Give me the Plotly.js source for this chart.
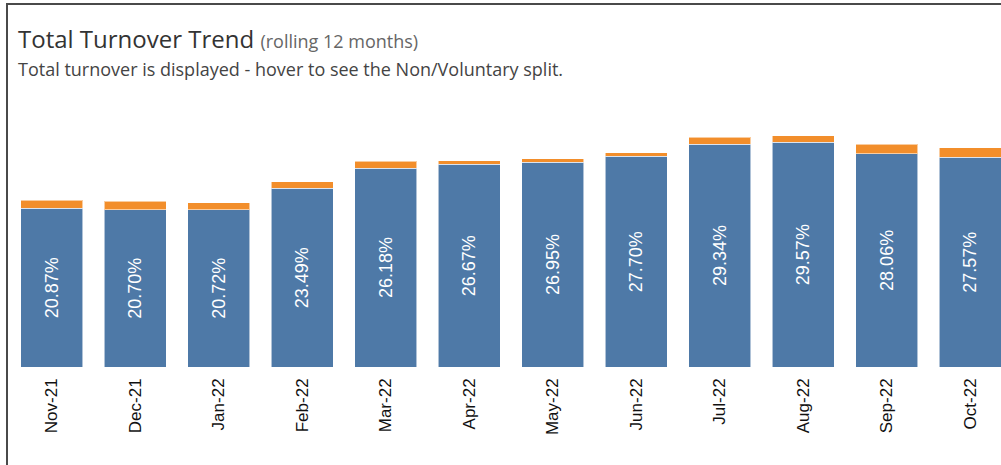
<!DOCTYPE html>
<html>
<head>
<meta charset="utf-8">
<script src="https://cdn.plot.ly/plotly-3.0.1.min.js"></script>
<style>
  html, body { margin: 0; padding: 0; background: #fff; overflow: hidden; }
  #wrap { position: relative; width: 1001px; height: 465px; }
  #chart { width: 1001px; height: 465px; }
  #frame { position: absolute; left: 6px; top: 3px; width: 1010px; height: 480px;
           border-left: 2px solid #4a4a4a; border-top: 2px solid #4a4a4a; pointer-events: none; }
</style>
</head>
<body>
<div id="wrap">
  <div id="chart"></div>
  <div id="frame"></div>
</div>
<script>
// Data
var months = ["Nov-21","Dec-21","Jan-22","Feb-22","Mar-22","Apr-22","May-22","Jun-22","Jul-22","Aug-22","Sep-22","Oct-22"];
var mainValues = [20.87, 20.70, 20.72, 23.49, 26.18, 26.67, 26.95, 27.70, 29.34, 29.57, 28.06, 27.57];
var topValues  = [1.05, 1.10, 0.87, 0.87, 0.92, 0.48, 0.48, 0.48, 0.88, 0.87, 1.27, 1.27];
var mainLabels = mainValues.map(function(v){ return v.toFixed(2) + "%"; });

var blue = "#4e79a7", orange = "#f28e2b";

var traces = [
  {
    type: "bar", x: months, y: mainValues, name: "Voluntary",
    marker: { color: blue, line: { color: "rgba(255,255,255,0.55)", width: 1 } },
    text: mainLabels, textposition: "inside", insidetextanchor: "middle",
    textangle: -90, constraintext: "none",
    textfont: { family: "Liberation Sans, Arial, sans-serif", size: 18, color: "#ffffff" },
    hovertemplate: "%{x}<br>Voluntary: %{y:.2f}%<extra></extra>"
  },
  {
    type: "bar", x: months, y: topValues, name: "Non-Voluntary",
    marker: { color: orange, line: { color: "rgba(255,255,255,0.55)", width: 1 } },
    hovertemplate: "%{x}<br>Non-Voluntary: %{y:.2f}%<extra></extra>"
  }
];

var L = 10, B = 98, T = 90, R = 0;
var W = 1001 - L - R, H = 465 - T - B;
var spacing = 83.5, pxPerUnit = 7.6;
function px(xp){ return (xp - L) / W; }
function py(yp){ return (465 - B - yp) / H; }

var layout = {
  width: 1001, height: 465,
  margin: { l: L, r: R, t: T, b: B, pad: 0 },
  paper_bgcolor: "#ffffff", plot_bgcolor: "#ffffff",
  barmode: "stack", bargap: 1 - 62 / spacing,
  showlegend: false,
  xaxis: {
    type: "category", range: [-0.5, -0.5 + W / spacing],
    tickangle: -90, ticks: "", showline: false, showgrid: false, zeroline: false,
    tickfont: { family: "Liberation Sans, Arial, sans-serif", size: 17, color: "#111111" },
    ticklabelstandoff: 7
  },
  yaxis: {
    range: [0, H / pxPerUnit], visible: false, showgrid: false, zeroline: false, fixedrange: true
  },
  annotations: [
    {
      xref: "paper", yref: "paper", x: px(16), y: py(38), xanchor: "left", yanchor: "middle",
      showarrow: false,
      text: "Total Turnover Trend <span style='font-size:18px;color:#666666'>(rolling 12 months)</span>",
      font: { family: "Open Sans, sans-serif", size: 24, color: "#333333" }
    },
    {
      xref: "paper", yref: "paper", x: px(16), y: py(69), xanchor: "left", yanchor: "middle",
      showarrow: false,
      text: "Total turnover is displayed - hover to see the Non/Voluntary split.",
      font: { family: "Open Sans, sans-serif", size: 18, color: "#444444" }
    }
  ]
};

Plotly.newPlot("chart", traces, layout, { displayModeBar: false, responsive: false });
</script>
</body>
</html>
